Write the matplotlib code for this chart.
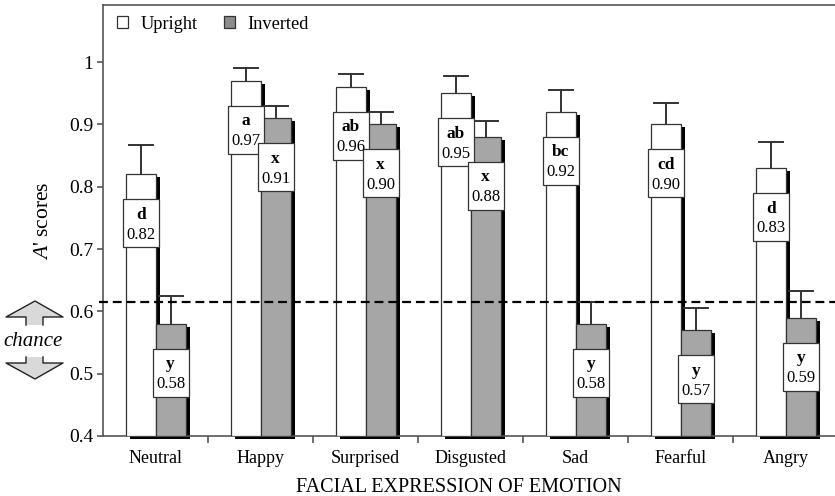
import matplotlib

matplotlib.use("Agg")
import matplotlib.pyplot as plt
import matplotlib.transforms as mtransforms
from matplotlib.patches import Patch, Polygon, Rectangle
from matplotlib.lines import Line2D

plt.rcParams["font.family"] = "Liberation Serif"
plt.rcParams["mathtext.fontset"] = "custom"
plt.rcParams["mathtext.it"] = "Liberation Serif:italic"
plt.rcParams["mathtext.rm"] = "Liberation Serif"

emotions = ["Neutral", "Happy", "Surprised", "Disgusted", "Sad", "Fearful", "Angry"]
upright = [0.82, 0.97, 0.96, 0.95, 0.92, 0.90, 0.83]
inverted = [0.58, 0.91, 0.90, 0.88, 0.58, 0.57, 0.59]
upright_err = [0.047, 0.020, 0.020, 0.028, 0.035, 0.035, 0.042]
inverted_err = [0.045, 0.020, 0.020, 0.025, 0.035, 0.035, 0.043]
upright_grp = ["d", "a", "ab", "ab", "bc", "cd", "d"]
inverted_grp = ["y", "x", "x", "x", "y", "y", "y"]
chance = 0.615

EDGE = "#333333"
GRAY = "#a6a6a6"
W = 0.29

fig = plt.figure(figsize=(8.35, 4.96), dpi=100)
ax = fig.add_axes([103 / 835, 60 / 496, 1 - 103 / 835, 431 / 496])
ax.set_ylim(0.4, 1.0915)
ax.set_xlim(-0.5, 6.471)

shadow = mtransforms.offset_copy(ax.transData, fig, x=4, y=-3, units="dots")


def draw_series(xs, vals, errs, grps, color):
    for x, v, e, g in zip(xs, vals, errs, grps):
        ax.add_patch(Rectangle((x - W / 2, 0.4), W, v - 0.4, facecolor="black",
                               edgecolor="none", transform=shadow, clip_on=False,
                               zorder=2))
        ax.add_patch(Rectangle((x - W / 2, 0.4), W, v - 0.4, facecolor=color,
                               edgecolor=EDGE, lw=0.9, zorder=3))
        ax.plot([x, x], [v, v + e], color=EDGE, lw=1.4, zorder=2.5)
        ax.plot([x - 0.114, x + 0.114], [v + e, v + e], color=EDGE, lw=1.4,
                zorder=2.5)
        top = v - 0.04
        ax.add_patch(Rectangle((x - 0.171, top - 0.077), 0.343, 0.077,
                               facecolor="white", edgecolor=EDGE, lw=0.9,
                               zorder=5))
        ax.text(x, top - 0.025, g, ha="center", va="center", fontsize=12.5,
                fontweight="bold", zorder=6)
        ax.text(x, top - 0.057, f"{v:.2f}", ha="center", va="center",
                fontsize=12, zorder=6)


xs = list(range(len(emotions)))
draw_series([x - 0.14 for x in xs], upright, upright_err, upright_grp, "white")
draw_series([x + 0.145 for x in xs], inverted, inverted_err, inverted_grp, GRAY)

# chance line
ax.add_line(Line2D([-0.535, 6.471], [chance, chance], color="black", lw=1.6,
                   dashes=(4, 2.2), clip_on=False, zorder=4))

# axes styling
for side in ("left", "top", "bottom"):
    ax.spines[side].set_color("#555555")
    ax.spines[side].set_linewidth(1.2)
ax.spines["right"].set_visible(False)
ax.set_yticks([0.4, 0.5, 0.6, 0.7, 0.8, 0.9, 1.0])
ax.set_yticklabels(["0.4", "0.5", "0.6", "0.7", "0.8", "0.9", "1"])
ax.set_xticks(xs)
ax.set_xticklabels(emotions)
ax.set_xticks([x + 0.5 for x in xs[:-1]], minor=True)
ax.tick_params(axis="x", which="major", length=0, pad=10, labelsize=13)
ax.tick_params(axis="x", which="minor", length=5, direction="out",
               color="#555555", width=1.2)
ax.tick_params(axis="y", length=4, direction="out", color="#555555",
               width=1.2, labelsize=14, pad=3)
ax.set_xlabel("FACIAL EXPRESSION OF EMOTION", fontsize=14.5, labelpad=6)
ax.xaxis.set_label_coords(0.486, -0.097)
ax.set_ylabel("$A$' scores", fontsize=15.5)
ax.yaxis.set_label_coords(-0.068, 0.5)

ax.legend(handles=[Patch(facecolor="white", edgecolor=EDGE, lw=0.9, label="Upright"),
                   Patch(facecolor="#8c8c8c", edgecolor=EDGE, lw=0.9, label="Inverted")],
          loc="upper left", bbox_to_anchor=(0.019, 0.975), ncol=2, frameon=False,
          fontsize=13.2, handlelength=0.6, handleheight=0.6, handletextpad=0.7,
          columnspacing=1.4, borderpad=0, borderaxespad=0)

# chance arrows in pixel coordinates (y down)
px = mtransforms.Affine2D().scale(1 / 835, -1 / 496).translate(0, 1) + fig.transFigure
up = [(26, 325), (26, 317), (6, 317), (35, 301), (63, 317), (43, 317), (43, 325)]
down = [(26, 357), (26, 363), (6, 363), (35, 379), (63, 363), (43, 363), (43, 357)]
for pts in (up, down):
    fig.add_artist(Polygon(pts, closed=True, facecolor="#d9d9d9",
                           edgecolor="none", transform=px))
    fig.add_artist(Line2D([p[0] for p in pts], [p[1] for p in pts], color="#222222",
                          lw=1.0, transform=px))
fig.text(33 / 835, 1 - 342 / 496, "chance", ha="center", va="center",
         fontsize=15, style="italic")

fig.savefig("out.png", dpi=100)
